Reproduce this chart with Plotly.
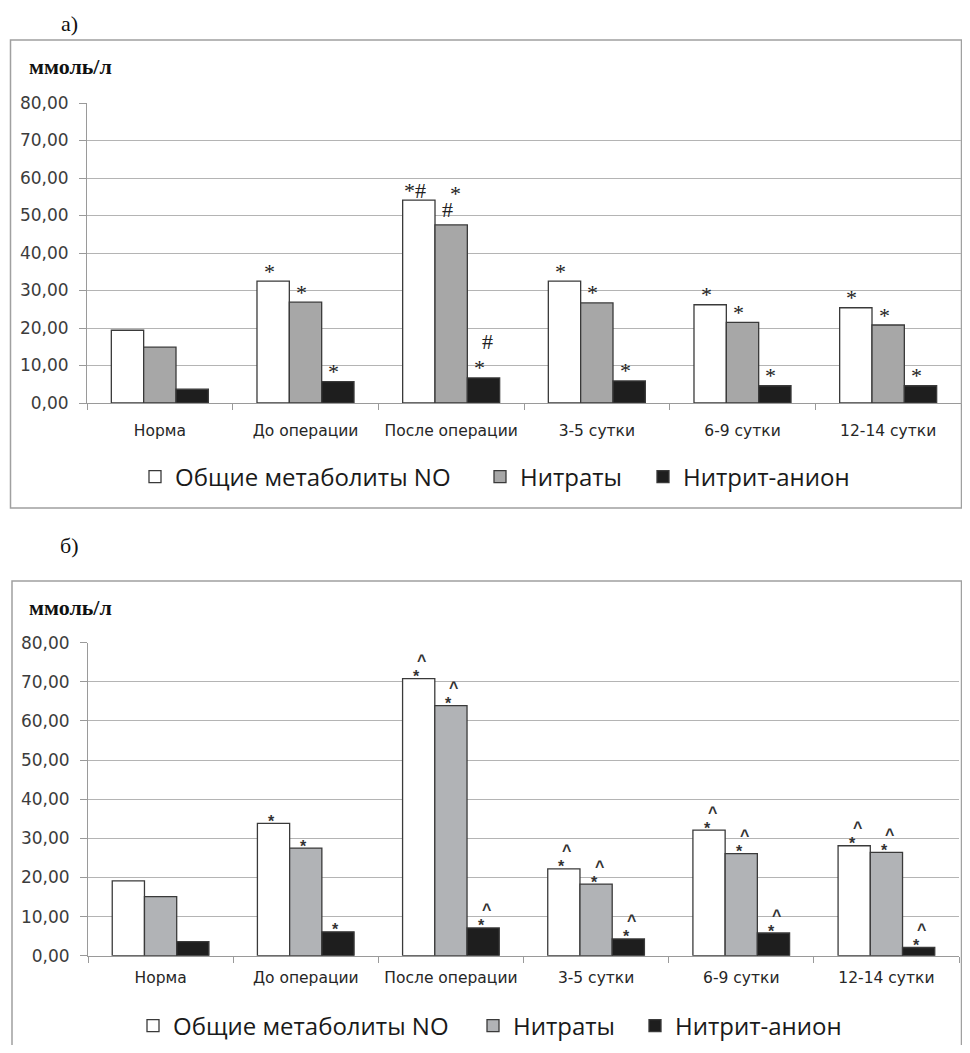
import plotly.graph_objects as go

# ---------------- data ----------------
categories = ["Норма", "До операции", "После операции", "3-5 сутки", "6-9 сутки", "12-14 сутки"]
series_names = ["Общие метаболиты NO", "Нитраты", "Нитрит-анион"]
y_ticks = [0, 10, 20, 30, 40, 50, 60, 70, 80]

# chart a)
a_total = [19.4, 32.5, 54.1, 32.5, 26.2, 25.4]
a_nitrates = [14.9, 26.9, 47.5, 26.7, 21.5, 20.8]
a_nitrite = [3.7, 5.7, 6.7, 5.9, 4.6, 4.6]

# chart б)
b_total = [19.1, 33.8, 70.8, 22.2, 32.1, 28.1]
b_nitrates = [15.1, 27.5, 63.9, 18.3, 26.1, 26.4]
b_nitrite = [3.6, 6.1, 7.1, 4.3, 5.8, 2.1]

# significance marks (lower mark, upper mark) per bar
a_low_total = ["", "*", "*#", "*", "*", "*"]
a_up_total = ["", "", "", "", "", ""]
a_low_nitrates = ["", "*", "#", "*", "*", "*"]
a_up_nitrates = ["", "", "*", "", "", ""]
a_low_nitrite = ["", "*", "*", "*", "*", "*"]
a_up_nitrite = ["", "", "#", "", "", ""]

b_low_total = ["", "*", "*", "*", "*", "*"]
b_up_total = ["", "", "^", "^", "^", "^"]
b_low_nitrates = ["", "*", "*", "*", "*", "*"]
b_up_nitrates = ["", "", "^", "^", "^", "^"]
b_low_nitrite = ["", "*", "*", "*", "*", "*"]
b_up_nitrite = ["", "", "^", "^", "^", "^"]

# ---------------- layout helpers ----------------
OFF = 8
W, H = 954, 1037


def xp(px):
    return (px - OFF) / W


def yp(py):
    return 1 - (py - OFF) / H


FILLS = ["#ffffff", "#a7a7a7", "#1e1e1e"]
FILLS_B = ["#ffffff", "#b1b3b6", "#1e1e1e"]
OUTLINE = "#3a3a3a"
GRID = "#b4b4b4"
AXIS = "#9a9a9a"
TICKFONT = dict(family="DejaVu Sans", size=17, color="#3c3c3c")
CATFONT = dict(family="DejaVu Sans", size=15.5, color="#262626")

fig = go.Figure()

charts = [
    dict(vals=[a_total, a_nitrates, a_nitrite], fills=FILLS, xa="x", ya="y", legend="legend",
         widths=[300, 118, None],
         low=[a_low_total, a_low_nitrates, a_low_nitrite],
         up=[a_up_total, a_up_nitrates, a_up_nitrite],
         markfont=dict(family="Liberation Serif", size=22, color="#222222"),
         low_dy=10, up_dy=31, low_dx=-4, up_dx=4, glyph_dy={"#": 5}),
    dict(vals=[b_total, b_nitrates, b_nitrite], fills=FILLS_B, xa="x2", ya="y2", legend="legend2",
         widths=[295, 117, None],
         low=[b_low_total, b_low_nitrates, b_low_nitrite],
         up=[b_up_total, b_up_nitrates, b_up_nitrite],
         markfont=dict(family="Liberation Sans", size=16, color="#333333"),
         low_dy=2, up_dy=18, low_dx=-2, up_dx=3, glyph_dy={}),
]

BARGAP = 0.334
annotations = []
for ci, ch in enumerate(charts):
    for si, (name, vals) in enumerate(zip(series_names, ch["vals"])):
        tr = dict(
            x=categories, y=vals, name=name,
            marker=dict(color=ch["fills"][si], line=dict(color=OUTLINE, width=1.3)),
            xaxis=ch["xa"], yaxis=ch["ya"], legend=ch["legend"],
            hovertemplate="%{x}: %{y:.2f}<extra>" + name + "</extra>",
        )
        if ch["widths"][si]:
            tr["legendwidth"] = ch["widths"][si]
        fig.add_trace(go.Bar(**tr))

for ci, ch in enumerate(charts):
    cat_px = (961 - 87) / 6 if ci == 0 else (959 - 88) / 6
    bw = cat_px * (1 - BARGAP) / 3
    for si in range(3):
        vals = ch["vals"][si]
        for k, cat in enumerate(categories):
            for txt, dy, dx in ((ch["low"][si][k], ch["low_dy"], ch["low_dx"]),
                                (ch["up"][si][k], ch["up_dy"], ch["up_dx"])):
                if not txt:
                    continue
                dy = dy + ch["glyph_dy"].get(txt, 0)
                annotations.append(dict(
                    x=cat, y=vals[k], xref=ch["xa"], yref=ch["ya"],
                    text="<b>" + txt + "</b>" if ci == 1 else txt,
                    showarrow=False, xanchor="center", yanchor="middle",
                    xshift=(si - 1) * bw + dx, yshift=dy, font=ch["markfont"],
                ))

# panel labels and unit labels
for txt, py in (("а)", 24), ("б)", 545)):
    annotations.append(dict(x=xp(69), y=yp(py), xref="paper", yref="paper", text=txt,
                            showarrow=False, xanchor="center", yanchor="middle",
                            font=dict(family="Liberation Serif", size=22, color="#111111")))
for py in (66, 607):
    annotations.append(dict(x=xp(27), y=yp(py), xref="paper", yref="paper", text="<b>ммоль/л</b>",
                            showarrow=False, xanchor="left", yanchor="middle",
                            font=dict(family="Liberation Serif", size=22, color="#111111")))

shapes = [
    dict(type="rect", xref="paper", yref="paper", x0=xp(10.5), x1=xp(961.5), y0=yp(508), y1=yp(40),
         line=dict(color="#a0a0a0", width=1.5), fillcolor="rgba(0,0,0,0)", layer="below"),
    dict(type="rect", xref="paper", yref="paper", x0=xp(12), x1=xp(961.5), y0=-0.02, y1=yp(581),
         line=dict(color="#a0a0a0", width=1.5), fillcolor="rgba(0,0,0,0)", layer="below"),
]

yaxis_common = dict(range=[0, 80], tickvals=y_ticks, tickformat=".2f", showgrid=True, gridcolor=GRID,
                    gridwidth=1, showline=True, linecolor=AXIS, linewidth=1, ticks="outside",
                    ticklen=7, tickcolor=AXIS, tickfont=TICKFONT, zeroline=False,
                    ticklabelstandoff=7, fixedrange=True)
xaxis_common = dict(type="category", categoryorder="array", categoryarray=categories, showgrid=False,
                    showline=True, linecolor=AXIS, linewidth=1, ticks="outside", tickson="boundaries",
                    ticklen=6, tickcolor=AXIS, tickfont=CATFONT, tickangle=0, fixedrange=True)

legend_common = dict(orientation="h", xanchor="left", yanchor="middle", bgcolor="rgba(0,0,0,0)",
                     borderwidth=0, traceorder="normal",
                     font=dict(family="Open Sans", size=24, color="#1a1a1a"))

fig.update_layout(
    width=W, height=H, autosize=False,
    margin=dict(l=0, r=0, t=0, b=0, autoexpand=False),
    paper_bgcolor="white", plot_bgcolor="white",
    separators=", ",
    barmode="group", bargap=BARGAP, bargroupgap=0,
    xaxis=dict(domain=[xp(87), xp(961)], anchor="y", ticklabelstandoff=13, **xaxis_common),
    yaxis=dict(domain=[yp(403), yp(103)], anchor="x", **yaxis_common),
    xaxis2=dict(domain=[xp(88), xp(959)], anchor="y2", ticklabelstandoff=8, **xaxis_common),
    yaxis2=dict(domain=[yp(955.7), yp(642.7)], anchor="x2", **yaxis_common),
    legend=dict(x=xp(135), y=yp(477), **legend_common),
    legend2=dict(x=xp(133), y=yp(1026), **legend_common),
    annotations=annotations,
    shapes=shapes,
    showlegend=True,
)

fig.write_html("out.html")
